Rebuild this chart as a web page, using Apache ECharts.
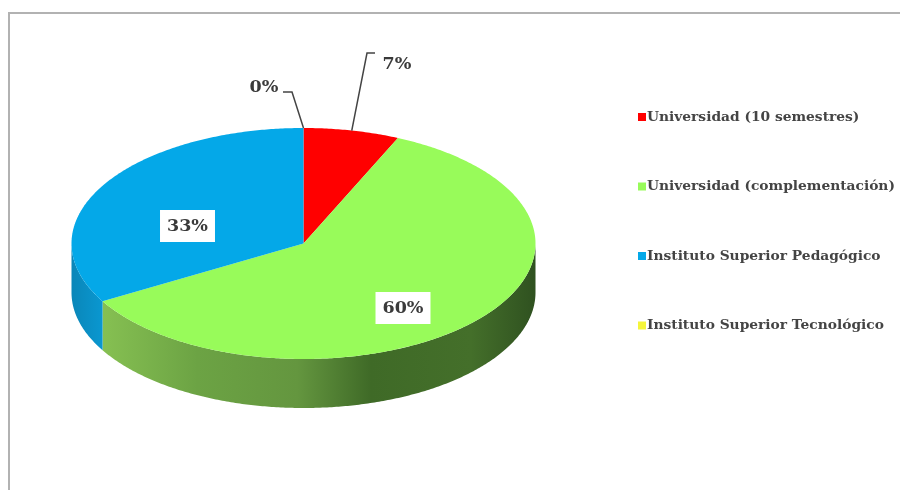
<!DOCTYPE html>
<html>
<head>
<meta charset="utf-8">
<style>html,body{margin:0;padding:0;background:#fff}#c{width:900px;height:490px;filter:blur(0.4px)}</style>
<script src="https://cdn.jsdelivr.net/npm/echarts@6/dist/echarts.min.js"></script>
</head>
<body>
<div id="c"></div>
<script>
const categories = ['Universidad (10 semestres)', 'Universidad (complementación)', 'Instituto Superior Pedagógico', 'Instituto Superior Tecnológico'];
const percentages = [6.67, 60, 33.33, 0];
const colors = ['#ff0000', '#98fb5a', '#04a8e8', '#f5f53a'];
const labelFont = '"DejaVu Serif", serif';

// layout of the drawing
const cx = 303.5, cy = 243.5, rx = 232, ry = 115.5, depth = 49;
const labelBoxes = [
  {x: 397, y: 64, bg: null},
  {x: 403, y: 308, bg: '#fff'},
  {x: 187.5, y: 226, bg: '#fff'},
  {x: 264, y: 87, bg: null}
];
const leaders = [
  [[375, 53], [367, 53]],
  null,
  null,
  [[283, 92], [292, 92]]
];
const sideFill = [
  '#c00000',
  {type: 'linear', global: true, x: 102, y: 0, x2: 536, y2: 0, colorStops: [
    {offset: 0, color: '#86c052'}, {offset: 0.22, color: '#6ca344'}, {offset: 0.45, color: '#64963f'},
    {offset: 0.62, color: '#3f6a27'}, {offset: 0.85, color: '#446f2a'}, {offset: 1, color: '#2f5120'}]},
  {type: 'linear', global: true, x: 71, y: 0, x2: 102, y2: 0, colorStops: [
    {offset: 0, color: '#0a86b8'}, {offset: 1, color: '#0a97d0'}]},
  '#c4c42e'
];

const total = percentages.reduce((a, b) => a + b, 0);
// angle measured clockwise from the top of the pie
function pt(a, dy) {
  return [cx + rx * Math.sin(a), cy - ry * Math.cos(a) + (dy || 0)];
}
function arc(a0, a1, dy) {
  const n = Math.max(2, Math.ceil(Math.abs(a1 - a0) / 0.01));
  const out = [];
  for (let i = 0; i <= n; i++) out.push(pt(a0 + (a1 - a0) * i / n, dy));
  return out;
}
function renderSlice(idx, params, api) {
  const before = percentages.slice(0, idx).reduce((a, b) => a + b, 0);
  const v = api.value(0);
  const a0 = before / total * 2 * Math.PI;
  const a1 = (before + v) / total * 2 * Math.PI;
  const mid = (a0 + a1) / 2;
  const children = [];
  // side wall: the part of the rim on the lower half
  const s0 = Math.max(a0, Math.PI / 2), s1 = Math.min(a1, Math.PI * 1.5);
  if (s1 > s0) {
    const top = arc(s0, s1, 0), bot = arc(s1, s0, depth);
    children.push({type: 'polygon', shape: {points: top.concat(bot)}, style: {fill: sideFill[idx]}});
  }
  if (v > 0) {
    children.push({type: 'polygon', shape: {points: [[cx, cy]].concat(arc(a0, a1, 0))}, style: {fill: colors[idx]}});
  }
  if (leaders[idx]) {
    children.push({type: 'polyline', shape: {points: leaders[idx].concat([pt(mid)])},
      style: {fill: 'none', stroke: '#444', lineWidth: 1.5}, z2: 5});
  }
  const b = labelBoxes[idx];
  children.push({type: 'text', x: b.x, y: b.y, z2: 10, style: {
    text: Math.round(v) + '%', font: 'bold 17.5px ' + labelFont, fill: '#3a3a3a', align: 'center', verticalAlign: 'middle',
    backgroundColor: b.bg || 'transparent', padding: b.bg ? [7, 7, 7, 7] : 0}});
  return {type: 'group', children};
}

const chart = echarts.init(document.getElementById('c'), null, {renderer: 'canvas'});
chart.setOption({
  animation: false,
  backgroundColor: '#fff',
  graphic: [
    {type: 'polyline', shape: {points: [[9, 490], [9, 13], [900, 13]]}, style: {fill: 'none', stroke: '#b2b2b2', lineWidth: 2}}
  ],
  legend: {
    orient: 'vertical', left: 633, top: 105, itemWidth: 8, itemHeight: 8, itemGap: 55.5,
    selectedMode: false,
    icon: 'rect',
    textStyle: {fontFamily: labelFont, fontSize: 13.8, fontWeight: 'bold', color: '#444', padding: [0, 0, 0, -4]},
    data: categories
  },
  series: categories.map((name, i) => ({
    type: 'custom',
    name,
    coordinateSystem: 'none',
    silent: true,
    itemStyle: {color: colors[i]},
    data: [[percentages[i]]],
    renderItem: (params, api) => renderSlice(i, params, api)
  }))
});
</script>
</body>
</html>
